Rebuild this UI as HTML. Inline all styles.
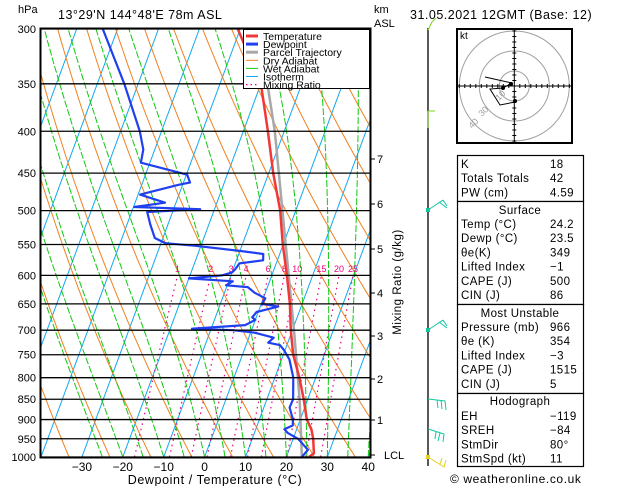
<!DOCTYPE html>
<html><head><meta charset="utf-8">
<style>
html,body{margin:0;padding:0;background:#fff;}
svg{display:block;font-family:"Liberation Sans",sans-serif;}
</style></head>
<body>
<svg id="chart" width="629" height="486" viewBox="0 0 629 486" xmlns="http://www.w3.org/2000/svg">
<defs><clipPath id="plotclip"><rect x="41" y="29" width="329" height="428"/></clipPath></defs>
<rect width="629" height="486" fill="#fff"/>
<text x="18" y="13" font-size="11">hPa</text>
<text x="58" y="19" font-size="12.5" letter-spacing="0.5">13°29'N  144°48'E  78m  ASL</text>
<text x="374" y="13" font-size="11">km</text>
<text x="374" y="27" font-size="11">ASL</text>
<text x="410" y="19" font-size="12.5" letter-spacing="0.5">31.05.2021  12GMT  (Base: 12)</text>
<g id="grid" clip-path="url(#plotclip)"></g>
<g id="profiles" clip-path="url(#plotclip)"></g>
<g id="axes"></g>
<g id="legend"></g>
<g id="winds"></g>
<g id="hodo"></g>
<g id="tables"></g>
<text x="450" y="483" font-size="12" letter-spacing="0.6">© weatheronline.co.uk</text>
</svg>
<script>
// ---- data ----
const pressureLevels = [300,350,400,450,500,550,600,650,700,750,800,850,900,950,1000];
const tempTicks = [-30,-20,-10,0,10,20,30,40];
const kmTicks = [1,2,3,4,5,6,7];
const kmY = [420,379,336,293,249,204,159];
const mixRatios = [1,2,3,4,6,8,10,15,20,25];
const tempP = [1000,990,950,925,900,850,800,750,700,650,600,550,500,450,400,350,300];
const tempT = [25.5,26.4,24.9,23.6,21.6,19,16,12.4,9.6,7,3.7,-0.1,-3.8,-8.9,-14,-20,-30.6];
const dewP = [1000,980,950,935,925,915,900,870,850,800,760,740,730,725,715,705,700,697,690,685,680,675,665,655,650,640,630,620,617,610,605,600,595,590,580,575,565,560,552,548,540,520,502,498,495,489,478,465,462,452,437,421,400,350,300];
const dewT = [23.8,24.6,21.2,18.2,17,18.7,18.2,16.3,16.4,14.5,11.9,9.7,8.3,5.2,6.1,1,-4.5,-14.7,-2,-1,0,-1,-0.4,4.4,0.2,0.5,-2.6,-4.8,-10.3,-9,-20,-12.2,-10,-9.5,-9,-3.5,-4,-10.1,-21.3,-28.9,-32,-34.3,-36.2,-23.5,-39.8,-32.7,-39.5,-31,-28.4,-29.8,-42.2,-42.8,-45.3,-53.4,-63.6];
const parcelP = [1000,850,700,550,400,350,300];
const parcelT = [23.8,18,10.4,0.6,-12.3,-18.4,-26];
const kLabels = ["K","Totals Totals","PW (cm)"];
const kValues = ["18","42","4.59"];
const surfLabels = ["Temp (°C)","Dewp (°C)","θe(K)","Lifted Index","CAPE (J)","CIN (J)"];
const surfValues = ["24.2","23.5","349","−1","500","86"];
const muLabels = ["Pressure (mb)","θe (K)","Lifted Index","CAPE (J)","CIN (J)"];
const muValues = ["966","354","−3","1515","5"];
const hodoLabels = ["EH","SREH","StmDir","StmSpd (kt)"];
const hodoValues = ["−119","−84","80°","11"];

const NS="http://www.w3.org/2000/svg";
const LN=Math.log(10/3);
function yP(p){return 29+428*Math.log(p/300)/LN;}
function xT(T,p){return 41+(T+40)*4.09+0.37*(457-yP(p));}
function mk(parent,tag,attrs){const e=document.createElementNS(NS,tag);for(const k in attrs)e.setAttribute(k,attrs[k]);parent.appendChild(e);return e;}
function path(pts){return pts.map((q,i)=>(i?'L':'M')+q[0].toFixed(1)+' '+q[1].toFixed(1)).join('');}
const grid=document.getElementById('grid');
const prof=document.getElementById('profiles');
const axes=document.getElementById('axes');

// isotherms
for(let T=-120;T<=50;T+=10){
  const l=mk(grid,'line',{x1:xT(T,1000),y1:yP(1000),x2:xT(T,300),y2:yP(300),stroke:'#10a8f0','stroke-width':1});
  
  
}
// dry adiabats
for(let th=230;th<=480;th+=10){
  const pts=[];for(let p=1000;p>=290;p-=10){const T=th*Math.pow(p/1000,0.2857)-273.15;pts.push([xT(T,p),yP(p)]);}
  const e=mk(grid,'path',{d:path(pts),fill:'none',stroke:'#f08020','stroke-width':1});
  
  
}
// wet adiabats
function es(T){return 6.112*Math.exp(17.67*T/(T+243.5));}
for(let T0=-25;T0<=40;T0+=5){
  let T=T0+273.15;const pts=[];
  for(let p=1000;p>=290;p-=5){
    pts.push([xT(T-273.15,p),yP(p)]);
    const e=es(T-273.15);const rs=0.622*e/(p-e);
    const num=(287*T+2.5e6*rs);const den=(1004+2.5e6*2.5e6*rs*0.622/(287*T*T));
    T-= (num/den)/p*5;
  }
  const e=mk(grid,'path',{d:path(pts),fill:'none',stroke:'#10c810','stroke-width':1,'stroke-dasharray':'7 2'});
  
  
}
// mixing ratio lines
mixRatios.forEach(w=>{
  const pts=[];for(let p=1000;p>=600;p-=10){const e=w*p/(622+w);const L=Math.log(e/6.112);const Td=243.5*L/(17.67-L);pts.push([xT(Td,p),yP(p)]);}
  const e=mk(grid,'path',{d:path(pts),fill:'none',stroke:'#f00080','stroke-width':1.2,'stroke-dasharray':'1.5 4'});
  
  
  const p=600,ee=w*p/(622+w),L=Math.log(ee/6.112),Td=243.5*L/(17.67-L);
  const t=mk(grid,'text',{x:xT(Td,p),y:272,'font-size':9,fill:'#f00080','text-anchor':'middle'});t.textContent=w;
  
  
});
// pressure lines
pressureLevels.forEach(p=>{
  const y=yP(p);
  const l=mk(axes,'line',{x1:41,x2:370,y1:y,y2:y,stroke:'#000','stroke-width':1.3});
  
  
  const t=mk(axes,'text',{x:36,y:y+4,'font-size':11,'text-anchor':'end'});t.textContent=p;
  
  
});
// frame
const fr=mk(axes,'rect',{x:40.5,y:28.5,width:330,height:429,fill:'none',stroke:'#000','stroke-width':2});


tempTicks.forEach(T=>{
  const x=xT(T,1000);
  const t=mk(axes,'text',{x:x,y:471,'font-size':12,'text-anchor':'middle'});t.textContent=(T<0?'−'+(-T):T);
  
  
});
const xt=mk(axes,'text',{x:215,y:484,'font-size':12.5,'text-anchor':'middle','letter-spacing':'0.6'});xt.textContent='Dewpoint / Temperature (°C)';


kmTicks.forEach((k,i)=>{
  mk(axes,'line',{x1:370,x2:375,y1:kmY[i],y2:kmY[i],stroke:'#000'});
  const t=mk(axes,'text',{x:377,y:kmY[i]+4,'font-size':11});t.textContent=k;
  
  
});
mk(axes,'line',{x1:370,x2:375,y1:455,y2:455,stroke:'#000'});
const lcl=mk(axes,'text',{x:384,y:459,'font-size':11});lcl.textContent='LCL';


const mr=mk(axes,'text',{x:401,y:282,'font-size':11.5,'text-anchor':'middle',transform:'rotate(-90 401 282)','letter-spacing':'0.5'});mr.textContent='Mixing Ratio (g/kg)';



// profiles
function line(P,T,color,w,name){
  const pts=P.map((p,i)=>[xT(T[i],p),yP(p)]);
  const e=mk(prof,'path',{d:path(pts),fill:'none',stroke:color,'stroke-width':w,'stroke-linejoin':'round'});
  
  
}
line(parcelP,parcelT,'#a8a8a8',2.5,'parcel-trajectory');
line(tempP,tempT,'#f03838',2.5,'temperature-line');
line(dewP,dewT,'#2040f0',2.2,'dewpoint-line');

// legend
const lg=document.getElementById('legend');
mk(lg,'rect',{x:243.5,y:29.5,width:126,height:59,fill:'#fff',stroke:'#000','stroke-width':1});
const legItems=[['Temperature','#f03838',3,''],['Dewpoint','#2040f0',3,''],['Parcel Trajectory','#a8a8a8',3,''],['Dry Adiabat','#f08020',1,''],['Wet Adiabat','#10c810',1,''],['Isotherm','#10a8f0',1,''],['Mixing Ratio','#f00080',1.2,'1.5 3']];
legItems.forEach((it,i)=>{
  const y=36+i*8.1;
  mk(lg,'line',{x1:246,x2:258,y1:y,y2:y,stroke:it[1],'stroke-width':it[2],'stroke-dasharray':it[3]});
  const t=mk(lg,'text',{x:263,y:y+4,'font-size':10.5});t.textContent=it[0];
  
  
});

// wind barbs
const wg=document.getElementById('winds');
mk(wg,'line',{x1:428,y1:28,x2:428,y2:466,stroke:'#000','stroke-width':1.3});
mk(wg,'path',{d:'M428 30 L432 22 L436 18',stroke:'#80d020',fill:'none'});
mk(wg,'path',{d:'M428 111 L428 128 M428 111 L435 111',stroke:'#80d020',fill:'none'});
[[428,210],[428,330]].forEach(q=>{mk(wg,'path',{d:`M${q[0]} ${q[1]} L443 ${q[1]-10} M443 ${q[1]-10} L447 ${q[1]-4} M439 ${q[1]-8} L447 ${q[1]-2}`,stroke:'#10c8a0',fill:'none'});mk(wg,'rect',{x:q[0]-2,y:q[1]-2,width:4,height:4,fill:'#10c8a0'});});
mk(wg,'path',{d:'M428 399 L445 401 L446 410 M441 400 L442 409 M437 400 L438 408',stroke:'#10c8a0',fill:'none'});
mk(wg,'path',{d:'M428 429 L444 434 L443 442 M440 433 L438 441 M436 432 L435 439',stroke:'#10c8a0',fill:'none'});
mk(wg,'rect',{x:426,y:455,width:4,height:4,fill:'#e8d020'});
mk(wg,'path',{d:'M428 457 L444 467 L446 460 M440 464 L442 458',stroke:'#e8d020',fill:'none'});

// hodograph
const hg=document.getElementById('hodo');
const hx=514.3,hy=86;
mk(hg,'rect',{x:457,y:29,width:115,height:114,fill:'#fff',stroke:'#000','stroke-width':2});
[15,35,55].forEach(r=>mk(hg,'circle',{cx:hx,cy:hy,r:r,fill:'none',stroke:'#a0a0a0'}));
mk(hg,'line',{x1:457,x2:572,y1:hy,y2:hy,stroke:'#000'});
mk(hg,'line',{x1:hx,x2:hx,y1:29,y2:143,stroke:'#000'});
for(let i=-10;i<=10;i++){if(!i)continue;mk(hg,'line',{x1:hx+i*5.5,x2:hx+i*5.5,y1:hy-2,y2:hy+2,stroke:'#000'});mk(hg,'line',{y1:hy+i*5.5,y2:hy+i*5.5,x1:hx-2,x2:hx+2,stroke:'#000'});}
const kt=mk(hg,'text',{x:460,y:39,'font-size':10});kt.textContent='kt';
mk(hg,'path',{d:'M485 77 L512 83 L503 88 L490 89 L500 105 L515 102',fill:'none',stroke:'#000'});
mk(hg,'circle',{cx:503,cy:88,r:2,fill:'#000'});mk(hg,'circle',{cx:515,cy:101,r:2,fill:'#000'});mk(hg,'circle',{cx:511,cy:84,r:2,fill:'#000'});
[['10',499,101],['30',482,117],['40',472,129]].forEach(a=>{const t=mk(hg,'text',{x:a[1],y:a[2],'font-size':9,fill:'#a0a0a0',transform:`rotate(-45 ${a[1]} ${a[2]})`});t.textContent=a[0];});

// tables
const tg=document.getElementById('tables');
const boxes=[[155,201],[201,304],[304,393],[393,466]];
boxes.forEach(b=>mk(tg,'rect',{x:457.5,y:b[0]+0.5,width:126,height:b[1]-b[0],fill:'#fff',stroke:'#000','stroke-width':1.2}));
function rows(labels,values,y0){labels.forEach((l,i)=>{
  const t=mk(tg,'text',{x:461,y:y0+i*14.2+4,'font-size':11.5,'letter-spacing':'0.4'});t.textContent=l;
  
  
  const v=mk(tg,'text',{x:550,y:y0+i*14.2+4,'font-size':11.5,'letter-spacing':'0.4'});v.textContent=values[i];
  
  
});}
function head(txt,y){const t=mk(tg,'text',{x:520,y:y+4,'font-size':11.5,'text-anchor':'middle','letter-spacing':'0.4'});t.textContent=txt;
  
  }
rows(kLabels,kValues,164);
head('Surface',210);rows(surfLabels,surfValues,224);
head('Most Unstable',313);rows(muLabels,muValues,327);
head('Hodograph',401);rows(hodoLabels,hodoValues,416);
</script>
</body></html>
